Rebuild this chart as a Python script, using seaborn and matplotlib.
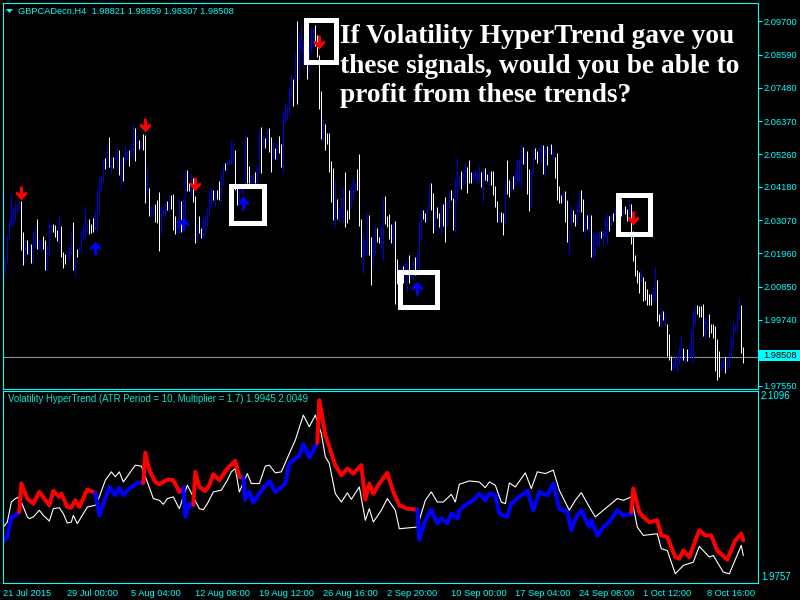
import numpy as np
import pandas as pd
import matplotlib
matplotlib.use("Agg")
import matplotlib.pyplot as plt
from matplotlib.path import Path
from matplotlib.patches import Rectangle
import seaborn as sns

bar_high = [
2.0150,2.0175,2.0260,2.0312,2.0390,2.0349,2.0363,2.0362,2.0373,2.0370,
2.0266,2.0242,2.0240,2.0226,2.0228,2.0266,2.0284,2.0312,2.0240,2.0244,
2.0253,2.0240,2.0223,2.0302,2.0295,2.0293,2.0289,2.0273,2.0323,2.0286,
2.0201,2.0195,2.0197,2.0222,2.0271,2.0300,2.0184,2.0211,2.0222,2.0271,
2.0286,2.0355,2.0304,2.0311,2.0295,2.0313,2.0337,2.0411,2.0449,2.0453,
2.0512,2.0513,2.0553,2.0585,2.0516,2.0516,2.0516,2.0546,2.0540,2.0518,
2.0518,2.0558,2.0540,2.0540,2.0562,2.0627,2.0614,2.0587,2.0573,2.0571,
2.0593,2.0590,2.0487,2.0413,2.0355,2.0358,2.0362,2.0373,2.0400,2.0355,
2.0351,2.0368,2.0369,2.0389,2.0391,2.0395,2.0320,2.0306,2.0382,2.0371,
2.0378,2.0475,2.0475,2.0429,2.0463,2.0446,2.0387,2.0295,2.0320,2.0279,
2.0318,2.0320,2.0346,2.0409,2.0416,2.0407,2.0407,2.0407,2.0436,2.0463,
2.0490,2.0496,2.0505,2.0513,2.0572,2.0574,2.0541,2.0413,2.0413,2.0413,
2.0413,2.0590,2.0585,2.0487,2.0457,2.0463,2.0467,2.0487,2.0610,2.0616,
2.0587,2.0579,2.0610,2.0613,2.0583,2.0568,2.0546,2.0568,2.0588,2.0559,
2.0669,2.0696,2.0691,2.0750,2.0794,2.0776,2.0863,2.0970,2.0928,2.0955,
2.0908,2.0897,2.0869,2.0897,2.0947,2.0952,2.0958,2.0925,2.0858,2.0738,
2.0643,2.0627,2.0596,2.0596,2.0505,2.0480,2.0440,2.0377,2.0346,2.0385,
2.0418,2.0466,2.0340,2.0407,2.0418,2.0449,2.0435,2.0476,2.0527,2.0312,
2.0262,2.0242,2.0329,2.0323,2.0251,2.0251,2.0290,2.0279,2.0251,2.0290,
2.0382,2.0387,2.0320,2.0326,2.0293,2.0304,2.0304,2.0177,2.0151,2.0153,
2.0153,2.0162,2.0175,2.0190,2.0140,2.0178,2.0184,2.0201,2.0304,2.0342,
2.0342,2.0329,2.0353,2.0434,2.0431,2.0398,2.0340,2.0349,2.0329,2.0360,
2.0360,2.0384,2.0368,2.0407,2.0407,2.0379,2.0446,2.0516,2.0457,2.0471,
2.0468,2.0498,2.0485,2.0507,2.0468,2.0468,2.0473,2.0471,2.0487,2.0468,
2.0479,2.0482,2.0460,2.0468,2.0469,2.0469,2.0420,2.0371,2.0334,2.0334,
2.0329,2.0429,2.0507,2.0440,2.0434,2.0453,2.0473,2.0512,2.0512,2.0557,
2.0551,2.0529,2.0538,2.0476,2.0473,2.0540,2.0546,2.0538,2.0546,2.0557,
2.0557,2.0554,2.0554,2.0551,2.0560,2.0542,2.0518,2.0531,2.0420,2.0390,
2.0404,2.0404,2.0373,2.0273,2.0361,2.0341,2.0326,2.0361,2.0406,2.0406,
2.0376,2.0317,2.0323,2.0328,2.0323,2.0264,2.0261,2.0267,2.0272,2.0272,
2.0275,2.0315,2.0326,2.0319,2.0326,2.0330,2.0345,2.0361,2.0373,2.0382,
2.0345,2.0353,2.0345,2.0373,2.0361,2.0270,2.0189,2.0139,2.0133,2.0141,
2.0117,2.0103,2.0077,2.0059,2.0059,2.0081,2.0152,2.0108,1.9992,2.0014,
2.0005,1.9996,1.9961,1.9927,1.9855,1.9833,1.9850,1.9855,1.9885,1.9922,
1.9881,1.9861,1.9876,1.9894,1.9944,2.0005,2.0025,2.0025,2.0019,2.0019,
2.0028,1.9985,1.9977,1.9992,1.9959,1.9959,1.9955,1.9911,1.9870,1.9838,
1.9844,1.9850,1.9838,1.9872,1.9916,1.9970,1.9959,1.9996,2.0050,2.0022,
1.9885]
bar_low = [
2.0126,2.0128,2.0164,2.0240,2.0286,2.0286,2.0301,2.0329,2.0340,2.0206,
2.0156,2.0168,2.0195,2.0189,2.0164,2.0162,2.0217,2.0211,2.0206,2.0204,
2.0211,2.0139,2.0139,2.0186,2.0266,2.0266,2.0251,2.0237,2.0228,2.0184,
2.0147,2.0159,2.0182,2.0173,2.0195,2.0139,2.0119,2.0184,2.0197,2.0201,
2.0240,2.0248,2.0262,2.0262,2.0264,2.0266,2.0273,2.0271,2.0329,2.0404,
2.0434,2.0478,2.0479,2.0484,2.0460,2.0479,2.0509,2.0479,2.0457,2.0418,
2.0438,2.0490,2.0507,2.0487,2.0518,2.0518,2.0504,2.0556,2.0544,2.0544,
2.0542,2.0364,2.0382,2.0320,2.0323,2.0322,2.0300,2.0297,2.0204,2.0262,
2.0320,2.0317,2.0342,2.0342,2.0344,2.0273,2.0260,2.0264,2.0264,2.0266,
2.0295,2.0306,2.0404,2.0404,2.0387,2.0368,2.0229,2.0235,2.0265,2.0248,
2.0251,2.0253,2.0285,2.0318,2.0351,2.0374,2.0351,2.0376,2.0374,2.0369,
2.0424,2.0474,2.0463,2.0490,2.0494,2.0490,2.0407,2.0357,2.0374,2.0396,
2.0396,2.0424,2.0429,2.0429,2.0429,2.0429,2.0429,2.0429,2.0463,2.0463,
2.0549,2.0547,2.0568,2.0535,2.0468,2.0513,2.0510,2.0507,2.0529,2.0485,
2.0463,2.0630,2.0641,2.0654,2.0705,2.0687,2.0769,2.0694,2.0776,2.0863,
2.0824,2.0841,2.0779,2.0802,2.0863,2.0886,2.0886,2.0852,2.0679,2.0576,
2.0574,2.0541,2.0559,2.0468,2.0368,2.0307,2.0285,2.0312,2.0305,2.0318,
2.0296,2.0285,2.0296,2.0309,2.0346,2.0374,2.0401,2.0407,2.0287,2.0184,
2.0129,2.0190,2.0190,2.0190,2.0090,2.0157,2.0190,2.0234,2.0229,2.0209,
2.0171,2.0295,2.0284,2.0245,2.0229,2.0217,2.0026,2.0095,2.0117,2.0112,
2.0097,2.0117,2.0062,2.0097,2.0117,2.0106,2.0123,2.0117,2.0145,2.0237,
2.0312,2.0300,2.0302,2.0340,2.0340,2.0264,2.0273,2.0315,2.0284,2.0262,
2.0286,2.0234,2.0286,2.0345,2.0373,2.0273,2.0268,2.0368,2.0412,2.0412,
2.0423,2.0423,2.0398,2.0431,2.0431,2.0440,2.0440,2.0427,2.0429,2.0416,
2.0364,2.0442,2.0438,2.0423,2.0423,2.0390,2.0351,2.0300,2.0302,2.0300,
2.0256,2.0295,2.0393,2.0384,2.0401,2.0412,2.0416,2.0429,2.0429,2.0409,
2.0493,2.0496,2.0393,2.0337,2.0349,2.0462,2.0512,2.0496,2.0512,2.0496,
2.0460,2.0449,2.0490,2.0527,2.0527,2.0512,2.0446,2.0373,2.0364,2.0364,
2.0364,2.0301,2.0234,2.0195,2.0286,2.0300,2.0286,2.0295,2.0330,2.0334,
2.0272,2.0256,2.0278,2.0272,2.0183,2.0175,2.0189,2.0222,2.0219,2.0248,
2.0222,2.0248,2.0226,2.0272,2.0286,2.0304,2.0322,2.0328,2.0323,2.0321,
2.0328,2.0326,2.0304,2.0300,2.0226,2.0170,2.0119,2.0097,2.0063,2.0100,
2.0036,2.0039,2.0022,2.0025,2.0025,2.0033,2.0036,1.9970,1.9952,1.9955,
1.9972,1.9952,1.9855,1.9841,1.9807,1.9805,1.9816,1.9803,1.9822,1.9844,
1.9841,1.9833,1.9836,1.9844,1.9850,1.9830,1.9952,1.9992,1.9985,1.9985,
1.9919,1.9914,1.9944,1.9916,1.9930,1.9912,1.9803,1.9772,1.9785,1.9799,
1.9816,1.9796,1.9807,1.9816,1.9850,1.9883,1.9933,1.9939,1.9977,1.9865,
1.9830]
bar_dir = ("duuuuuuuud" "dududuuduu" "dduuudddud" "dduuududuu" "uuuddduuuu"
           "udududuudu" "duuduududu" "dduduudddu" "uududdduud" "uudduddudd"
           "uuuuududdu" "uduuuudduu" "uudduuduud" "ududdududd" "uuuuududuu"
           "uuduuudddd" "uddddduduu" "uddduuuddd" "uuudduuddu" "uddddudduu"
           "duuduuduuu" "dduudduddu" "dduudduuud" "uuddduuuud" "udduddddud"
           "dudduduuuu" "dudduudduu" "dudududddd" "udduudduud" "dududuuuud"
           "uuududuuud" "uddudddddu" "ddddduuddu" "duddduuuuu" "duduuuuddd"
           "duuddddddu" "uduuuuuuud" "d")

sell_bar = [9, 71, 96, 158, 315]
sell_price = [2.0396, 2.0623, 2.0426, 2.0901, 2.0313]
buy_bar = [46, 90, 120, 207]
buy_price = [2.0213, 2.0293, 2.0363, 2.0079]
last_close = 1.98508

close_bar = [0,2,4,6,8,10,12,13,15,18,20,23,25,28,30,32,34,35,37,39,42,46,48,51,54,56,58,60,63,66,69,72,75,78,80,82,85,88,92,98,100,102,105,109,112,114,116,118,122,124,128,131,133,136,139,143,146,150,153,156,159,161,163,166,169,172,174,178,181,183,185,189,192,196,198,207,208,211,214,217,220,224,226,228,233,238,241,243,246,249,251,253,256,261,264,267,271,275,278,283,286,289,293,296,300,307,310,314,317,320,327,329,332,336,340,345,348,353,355,360,363,369,370]
close_val = [2.0140,2.0175,2.0316,2.0340,2.0352,2.0281,2.0211,2.0199,2.0211,2.0258,2.0222,2.0182,2.0269,2.0276,2.0234,2.0168,2.0175,2.0222,2.0164,2.0211,2.0281,2.0293,2.0352,2.0469,2.0528,2.0493,2.0528,2.0457,2.0516,2.0575,2.0568,2.0457,2.0340,2.0328,2.0300,2.0340,2.0352,2.0269,2.0434,2.0269,2.0262,2.0304,2.0387,2.0399,2.0469,2.0528,2.0551,2.0387,2.0516,2.0446,2.0446,2.0568,2.0575,2.0521,2.0528,2.0657,2.0751,2.0927,2.0845,2.0927,2.0798,2.0634,2.0587,2.0375,2.0316,2.0380,2.0335,2.0422,2.0187,2.0269,2.0175,2.0258,2.0340,2.0258,2.0128,2.0140,2.0187,2.0328,2.0387,2.0316,2.0316,2.0370,2.0316,2.0441,2.0464,2.0457,2.0417,2.0457,2.0434,2.0316,2.0304,2.0450,2.0422,2.0521,2.0410,2.0528,2.0516,2.0540,2.0399,2.0258,2.0328,2.0382,2.0281,2.0211,2.0258,2.0340,2.0328,2.0352,2.0140,2.0081,2.0093,1.9987,1.9975,1.9811,1.9870,1.9893,2.0004,1.9929,1.9940,1.9823,1.9811,2.0011,1.9940]

trend_runs = [
 ("blue", [0,2,4,6,8], [2.0041,2.0070,2.0211,2.0222,2.0246]),
 ("red", [8,9,12,15,18,23,25,28,29,32,34,36,38,42,46],
  [2.0246,2.0446,2.0340,2.0304,2.0387,2.0293,2.0394,2.0352,2.0375,2.0281,2.0276,2.0328,2.0281,2.0403,2.0380]),
 ("blue", [46,48,50,53,56,58,60,63,67,70],
  [2.0380,2.0222,2.0304,2.0422,2.0363,2.0417,2.0363,2.0410,2.0450,2.0450]),
 ("red", [70,71,73,76,78,82,85,88,90],
  [2.0450,2.0662,2.0540,2.0457,2.0441,2.0474,2.0469,2.0387,2.0410]),
 ("blue", [90,91,93,95], [2.0422,2.0211,2.0304,2.0293]),
 ("red", [95,96,98,101,103,105,108,112,116,118,120],
  [2.0300,2.0528,2.0422,2.0394,2.0434,2.0511,2.0469,2.0551,2.0605,2.0493,2.0488]),
 ("blue", [120,121,123,125,128,133,136,139,141,143,148,150,153,157],
  [2.0488,2.0333,2.0387,2.0312,2.0375,2.0464,2.0387,2.0422,2.0446,2.0587,2.0645,2.0723,2.0629,2.0732]),
 ("red", [157,158,161,163,166,169,172,175,179,181,183,185,188,192,195,198,202,207],
  [2.0732,2.1033,2.0786,2.0704,2.0575,2.0504,2.0551,2.0516,2.0575,2.0333,2.0446,2.0375,2.0446,2.0521,2.0387,2.0293,2.0269,2.0262]),
 ("blue", [207,208,211,214,217,219,222,224,227,228,232,235,238,241,243,246,248,252,254,258,262,265,268,272,275,278,282,284,286,289,293,294,297,300,303,307,310,314],
  [2.0262,2.0051,2.0187,2.0262,2.0164,2.0199,2.0168,2.0234,2.0199,2.0258,2.0304,2.0328,2.0375,2.0328,2.0375,2.0363,2.0234,2.0211,2.0304,2.0352,2.0394,2.0258,2.0387,2.0363,2.0446,2.0269,2.0246,2.0117,2.0199,2.0258,2.0140,2.0187,2.0081,2.0140,2.0175,2.0258,2.0222,2.0234]),
 ("red", [314,315,318,320,323,327,329,332,336,338,340,343,348,351,354,357,362,366,369,370],
  [2.0246,2.0410,2.0246,2.0211,2.0175,2.0187,2.0081,2.0070,1.9929,1.9917,1.9975,1.9929,2.0117,2.0081,2.0081,1.9975,1.9910,2.0046,2.0093,2.0046]),
]

price_ticks = [2.09700,2.08590,2.07480,2.06370,2.05260,2.04180,2.03070,2.01960,2.00850,1.99740,1.98660,1.97550]
time_tick_bars = [0,32,64,96,128,160,192,224,256,288,320,352]
time_labels = ["21 Jul 2015","29 Jul 00:00","5 Aug 04:00","12 Aug 08:00","19 Aug 12:00","26 Aug 16:00",
               "2 Sep 20:00","10 Sep 00:00","17 Sep 04:00","24 Sep 08:00","1 Oct 12:00","8 Oct 16:00"]
pane_range = [2.1096, 1.9757]
headline = "If Volatility HyperTrend gave you\nthese signals, would you be able to\nprofit from these trends?"
chart_title = "GBPCADecn,H4  1.98821 1.98859 1.98307 1.98508"
pane_title = "Volatility HyperTrend (ATR Period = 10, Multiplier = 1.7) 1.9945 2.0049"

assert len(bar_high) == len(bar_low) == len(bar_dir), (len(bar_high), len(bar_low), len(bar_dir))
assert len(close_bar) == len(close_val), (len(close_bar), len(close_val))

CYAN = "#00FFFF"
UI_SIZE = 6.7
sns.set_style("dark", {"axes.facecolor": "black", "figure.facecolor": "black",
                       "axes.edgecolor": CYAN, "font.family": ["Liberation Sans", "DejaVu Sans"]})
W, H = 800, 600
fig = plt.figure(figsize=(8, 6), dpi=100, facecolor="black")
def pane(l, t, r, b):
    return fig.add_axes([l / W, 1 - b / H, (r - l) / W, (b - t) / H], facecolor="black")
ax = pane(2.5, 2.5, 757.5, 388.5)
ax2 = pane(2.5, 390.5, 757.5, 582.5)
xlim = (-0.42, 377.1)
for a in (ax, ax2):
    a.set_xlim(*xlim)
    a.grid(False)
    for s in a.spines.values():
        s.set_color(CYAN); s.set_linewidth(0.8)

bars = pd.DataFrame({"bar": np.arange(len(bar_high)), "high": bar_high, "low": bar_low, "dir": list(bar_dir)})
for d, col in (("u", "#0000D8"), ("d", "white")):
    sub = bars[bars["dir"] == d]
    lc = ax.vlines(sub["bar"], sub["low"], sub["high"], colors=col, linewidth=0.72, antialiased=True)
    lc.set_snap(True)
ax.axhline(last_close, color="#7A93A8", lw=0.8, zorder=1.5)

dn = Path([(-0.75,3.5),(0.75,3.5),(0.75,0.0),(2.75,1.0),(2.75,-0.5),(0,-3.5),(-2.75,-0.5),(-2.75,1.0),(-0.75,0.0),(-0.75,3.5)])
up = Path([(-0.75,-3.5),(0.75,-3.5),(0.75,0.0),(2.75,-1.0),(2.75,0.5),(0,3.5),(-2.75,0.5),(-2.75,-1.0),(-0.75,0.0),(-0.75,-3.5)])
sns.scatterplot(x=sell_bar, y=sell_price, marker=dn, s=100, color="#FF0000", linewidth=0, ax=ax, zorder=4)
sns.scatterplot(x=buy_bar, y=buy_price, marker=up, s=100, color="#0000FF", linewidth=0, ax=ax, zorder=4)

ax.set_ylim(1.97450, 2.10326)
ax.set_xlim(*xlim)
ax.yaxis.tick_right()
ax.set_yticks(price_ticks)
ax.set_yticklabels([f"{v:.5f}" for v in price_ticks])
ax.tick_params(axis="y", length=3, width=0.8, color=CYAN, pad=1.5, labelcolor=CYAN, labelsize=UI_SIZE, right=True, left=False)
ax.set_xticks([])

sns.lineplot(x=close_bar, y=close_val, color="white", lw=0.8, estimator=None, sort=False, errorbar=None, ax=ax2)
for col, idx, val in trend_runs:
    sns.lineplot(x=idx, y=val, color={"red": "#FF0000", "blue": "#0000FF"}[col], lw=2.9,
                 estimator=None, sort=False, errorbar=None, ax=ax2, solid_capstyle="round")
ax2.set_ylim(1.9750, 2.1100)
ax2.set_xlim(*xlim)
ax2.yaxis.tick_right()
ax2.set_yticks(pane_range)
ax2.set_yticklabels([f"{v:.4f}" for v in pane_range])
ax2.tick_params(axis="y", length=0, pad=2.5, labelcolor=CYAN, labelsize=UI_SIZE + 0.3, right=True, left=False)
ticks = ax2.yaxis.get_major_ticks()
ticks[0].label2.set_va("top")
ticks[1].label2.set_va("bottom")
ax2.set_xticks(time_tick_bars)
ax2.set_xticklabels(time_labels, ha="left")
ax2.tick_params(axis="x", length=3, width=0.8, color=CYAN, pad=1.5, labelcolor=CYAN, labelsize=UI_SIZE)

def fx(x): return x / W
def fy(y): return 1 - y / H
for l, t, r, b in [(303, 18, 338, 64), (228, 183, 266, 225), (397, 269, 439, 309), (615, 192, 652, 236)]:
    fig.add_artist(Rectangle((fx(l + 2.5), fy(b - 2.5)), (r - l - 5) / W, (b - t - 5) / H, fill=False,
                             ec="white", lw=3.6, transform=fig.transFigure, joinstyle="miter", zorder=5))
fig.text(fx(340), fy(24), headline, color="white", family="Liberation Serif", weight="bold",
         fontsize=19.7, va="top", ha="left", linespacing=1.25, zorder=6)
fig.text(fx(18), fy(11), chart_title, color=CYAN, fontsize=UI_SIZE, va="center", ha="left")
fig.text(fx(8), fy(399), pane_title, color="#00E8D0", fontsize=UI_SIZE + 0.2, va="center", ha="left")
fig.add_artist(plt.Polygon([(fx(6), fy(9)), (fx(13), fy(9)), (fx(9.5), fy(13))], closed=True, fc=CYAN, ec="none",
                           transform=fig.transFigure))
fig.add_artist(Rectangle((fx(759), fy(361)), 41 / W, 11 / H, fc=CYAN, ec="none", transform=fig.transFigure, zorder=5))
fig.text(fx(763), fy(356), f"{last_close:.5f}", color="black", fontsize=UI_SIZE, va="center", ha="left", zorder=6)
fig.savefig("out.png", dpi=100, facecolor="black")
